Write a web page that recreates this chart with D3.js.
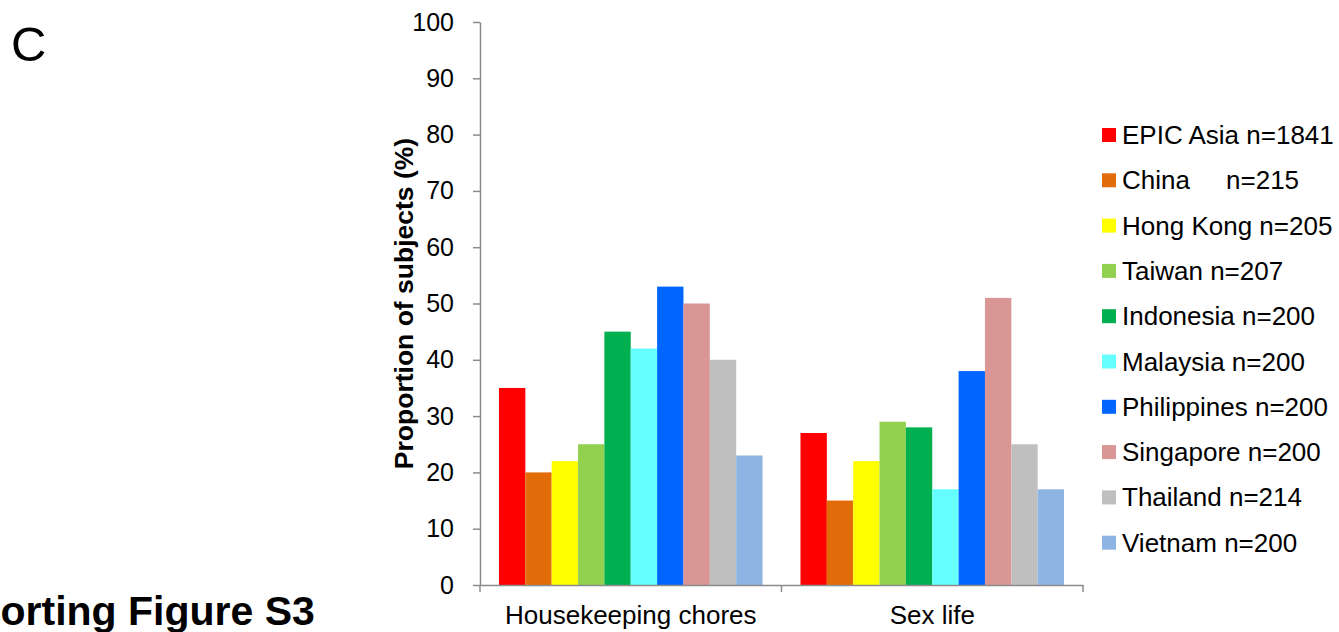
<!DOCTYPE html>
<html>
<head>
<meta charset="utf-8">
<script src="https://cdn.jsdelivr.net/npm/d3@7"></script>
<style>
  html, body { margin: 0; padding: 0; background: #fff; }
  svg { display: block; font-family: "Liberation Sans", Arial, sans-serif; }
</style>
</head>
<body>
<svg id="chart" width="1339" height="632"></svg>
<script>
const categories = ["Housekeeping chores", "Sex life"];
const seriesNames = ["EPIC Asia n=1841", "China     n=215", "Hong Kong n=205", "Taiwan n=207",
  "Indonesia n=200", "Malaysia n=200", "Philippines n=200", "Singapore n=200",
  "Thailand n=214", "Vietnam n=200"];
const seriesColors = ["#FF0000", "#E36C0A", "#FFFF00", "#92D050", "#00B050",
  "#66FFFF", "#0066FF", "#D99694", "#BFBFBF", "#8EB4E3"];
const housekeeping = [35, 20, 22, 25, 45, 42, 53, 50, 40, 23];
const sexLife = [27, 15, 22, 29, 28, 17, 38, 51, 25, 17];
const values = [housekeeping, sexLife];
const yTicks = [0, 10, 20, 30, 40, 50, 60, 70, 80, 90, 100];

const svg = d3.select("#chart");
const axisColor = "#8c8c8c";
const FONT = "'Liberation Sans', Arial, sans-serif";
const plot = { left: 480, right: 1083, top: 22, bottom: 585 };

const y = d3.scaleLinear().domain([0, 100]).range([plot.bottom, plot.top]);
const x = d3.scaleBand().domain(categories).range([plot.left, plot.right]).padding(0);
const xs = d3.scaleBand().domain(d3.range(seriesNames.length)).range([0, x.bandwidth()])
  .paddingInner(0).paddingOuter(0.72);

// Bars
const groups = svg.append("g").selectAll("g").data(categories).join("g")
  .attr("transform", d => `translate(${x(d)},0)`);
groups.selectAll("rect")
  .data((c, ci) => values[ci].map((v, si) => ({ v, si })))
  .join("rect")
  .attr("x", d => xs(d.si))
  .attr("width", xs.bandwidth())
  .attr("y", d => y(d.v))
  .attr("height", d => y(0) - y(d.v))
  .attr("fill", d => seriesColors[d.si]);

// Y axis
const yAxis = svg.append("g")
  .attr("transform", `translate(${plot.left},0)`)
  .call(d3.axisLeft(y).tickValues(yTicks).tickSize(7).tickPadding(19).tickSizeOuter(0));
yAxis.select(".domain").attr("stroke", axisColor).attr("stroke-width", 1.5);
yAxis.selectAll(".tick line").attr("stroke", axisColor).attr("stroke-width", 1.5);
yAxis.selectAll(".tick text").attr("fill", "#000").style("font-size", "25px")
  .style("font-family", FONT);

// X axis
const xAxis = svg.append("g")
  .attr("transform", `translate(0,${plot.bottom})`)
  .call(d3.axisBottom(x).tickSize(0).tickPadding(21).tickSizeOuter(0));
xAxis.select(".domain").attr("stroke", axisColor).attr("stroke-width", 1.5);
xAxis.selectAll(".tick text").attr("fill", "#000").style("font-size", "26px")
  .style("font-family", FONT);
// category boundary ticks
const bounds = [x(categories[0])].concat(categories.map(c => x(c) + x.bandwidth()));
xAxis.selectAll("line.bound").data(bounds).join("line")
  .attr("class", "bound")
  .attr("x1", d => d).attr("x2", d => d)
  .attr("y1", 0).attr("y2", 7)
  .attr("stroke", axisColor).attr("stroke-width", 1.5);

// Y title
svg.append("text")
  .attr("transform", `translate(413,${(plot.top + plot.bottom) / 2}) rotate(-90)`)
  .attr("text-anchor", "middle")
  .style("font-size", "26.5px").style("font-weight", "bold")
  .text("Proportion of subjects (%)");

// Legend
const legend = svg.append("g").attr("transform", "translate(1102,135)");
const items = legend.selectAll("g").data(seriesNames).join("g")
  .attr("transform", (d, i) => `translate(0,${i * 45.3})`);
items.append("rect").attr("x", 0).attr("y", -7).attr("width", 14).attr("height", 14)
  .attr("fill", (d, i) => seriesColors[i]);
items.append("text").attr("x", 20).attr("y", 9)
  .style("font-size", "26px").style("white-space", "pre")
  .text(d => d);

// Panel letter
svg.append("text").attr("x", 11).attr("y", 61)
  .style("font-size", "49px").text("C");

// Figure caption (cut off at left edge, as in the reference)
svg.append("text").attr("x", -102).attr("y", 625)
  .style("font-size", "41px").style("font-weight", "bold")
  .text("Supporting Figure S3");
</script>
</body>
</html>
